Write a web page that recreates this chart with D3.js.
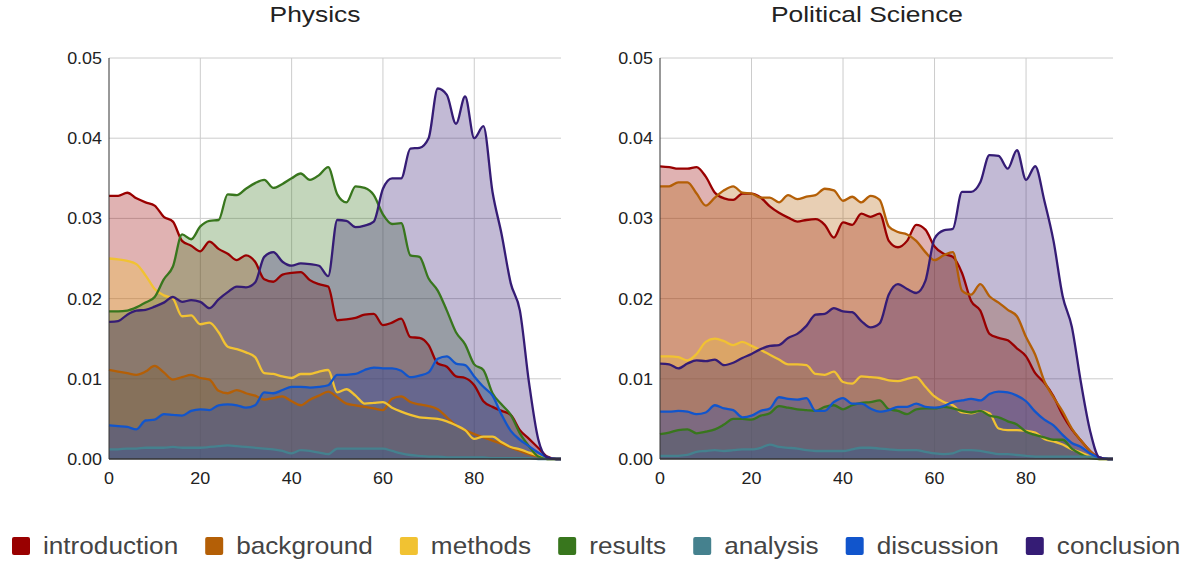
<!DOCTYPE html>
<html>
<head>
<meta charset="utf-8">
<script src="https://cdn.jsdelivr.net/npm/d3@7"></script>
<style>
  html, body { margin: 0; padding: 0; background: #fff; }
  svg { display: block; font-family: Arial, "Liberation Sans", sans-serif; }
</style>
</head>
<body>
<svg id="chart" width="1192" height="563"></svg>
<script>
// ---------------- DATA ----------------
const seriesNames = ["introduction", "background", "methods", "results", "analysis", "discussion", "conclusion"];
const seriesColors = ["#990000", "#b45f06", "#f1c232", "#38761d", "#45818e", "#1155cc", "#351c75"];
const chartTitles = ["Physics", "Political Science"];
const xTickValues = [0, 20, 40, 60, 80];
const yTickValues = [0, 0.01, 0.02, 0.03, 0.04, 0.05];
const yTickLabels = ["0.00", "0.01", "0.02", "0.03", "0.04", "0.05"];
// x positions (percent of paper): 0,2,...,98,99
const xPositions = d3.range(0, 100, 2).concat([99]);

// Physics
const physIntroduction = [0.0328,0.0328,0.0332,0.0325,0.0320,0.0316,0.0302,0.0296,0.0272,0.0266,
 0.0259,0.0271,0.0262,0.0256,0.0248,0.0254,0.0246,0.0224,0.0221,0.0230,
 0.0232,0.0233,0.0223,0.0218,0.0215,0.0173,0.0174,0.0176,0.0180,0.0181,
 0.0167,0.0170,0.0175,0.0152,0.0151,0.0142,0.0119,0.0115,0.0103,0.0101,
 0.0092,0.0072,0.0065,0.0060,0.0055,0.0036,0.0025,0.0014,0.0003,0,0];
const physBackground = [0.0111,0.0109,0.0107,0.0105,0.0109,0.0116,0.0108,0.0099,0.0102,0.0105,
 0.0101,0.0099,0.0085,0.0082,0.0086,0.0082,0.0079,0.0074,0.0076,0.0078,
 0.0072,0.0067,0.0074,0.0079,0.0084,0.0077,0.0069,0.0067,0.0065,0.0063,
 0.0061,0.0075,0.0078,0.0071,0.0068,0.0066,0.0062,0.0052,0.0042,0.0036,
 0.0031,0.0027,0.0023,0.0019,0.0014,0.0010,0.0006,0.0003,0.0001,0,0];
const physMethods = [0.0250,0.0249,0.0247,0.0243,0.0229,0.0212,0.0204,0.0200,0.0178,0.0179,
 0.0168,0.0170,0.0158,0.0140,0.0137,0.0133,0.0127,0.0107,0.0106,0.0103,
 0.0101,0.0106,0.0106,0.0109,0.0111,0.0083,0.0087,0.0079,0.0069,0.0070,
 0.0071,0.0064,0.0059,0.0055,0.0052,0.0051,0.0050,0.0047,0.0042,0.0036,
 0.0025,0.0028,0.0028,0.0021,0.0015,0.0012,0.0008,0.0004,0,0,0];
const physResults = [0.0184,0.0184,0.0185,0.0189,0.0195,0.0202,0.0224,0.0240,0.0280,0.0274,
 0.0290,0.0297,0.0298,0.0330,0.0329,0.0337,0.0344,0.0348,0.0338,0.0343,
 0.0350,0.0356,0.0348,0.0354,0.0364,0.0330,0.0320,0.0340,0.0338,0.0329,
 0.0305,0.0293,0.0294,0.0254,0.0252,0.0225,0.0210,0.0185,0.0158,0.0143,
 0.0118,0.0111,0.0082,0.0068,0.0055,0.0032,0.0016,0.0003,0,0,0];
const physAnalysis = [0.0012,0.0012,0.0013,0.0013,0.0014,0.0014,0.0014,0.0015,0.0014,0.0014,
 0.0014,0.0015,0.0016,0.0017,0.0016,0.0015,0.0014,0.0013,0.0012,0.0010,
 0.0007,0.0011,0.0010,0.0008,0.0006,0.0013,0.0013,0.0013,0.0013,0.0013,
 0.0013,0.0010,0.0007,0.0005,0.0004,0.0003,0.0003,0.0002,0.0002,0.0002,
 0.0002,0.0002,0.0001,0.0001,0.0001,0.0001,0.0001,0,0,0,0];
const physDiscussion = [0.0042,0.0041,0.0040,0.0037,0.0048,0.0049,0.0056,0.0055,0.0054,0.0060,
 0.0062,0.0061,0.0067,0.0068,0.0067,0.0064,0.0067,0.0083,0.0082,0.0086,
 0.0090,0.0090,0.0089,0.0090,0.0092,0.0105,0.0105,0.0106,0.0111,0.0114,
 0.0113,0.0113,0.0110,0.0102,0.0104,0.0108,0.0125,0.0128,0.0119,0.0117,
 0.0103,0.0090,0.0079,0.0055,0.0035,0.0024,0.0016,0.0008,0.0002,0,0];
const physConclusion = [0.0171,0.0172,0.0180,0.0185,0.0186,0.0190,0.0195,0.0202,0.0196,0.0198,
 0.0196,0.0188,0.0199,0.0208,0.0215,0.0214,0.0220,0.0252,0.0258,0.0246,
 0.0241,0.0244,0.0243,0.0241,0.0228,0.0298,0.0297,0.0289,0.0291,0.0296,
 0.0337,0.0350,0.0350,0.0387,0.0388,0.0400,0.0462,0.0454,0.0418,0.0452,
 0.0400,0.0415,0.0333,0.0280,0.0219,0.0185,0.0095,0.0025,0.0002,0,0];

// Political Science
const polIntroduction = [0.0365,0.0364,0.0362,0.0362,0.0364,0.0352,0.0332,0.0325,0.0323,0.0331,
 0.0331,0.0326,0.0315,0.0307,0.0301,0.0296,0.0298,0.0299,0.0292,0.0276,
 0.0295,0.0292,0.0306,0.0302,0.0306,0.0272,0.0264,0.0272,0.0292,0.0286,
 0.0265,0.0256,0.0252,0.0232,0.0197,0.0185,0.0156,0.0151,0.0148,0.0138,
 0.0128,0.0107,0.0095,0.0078,0.0055,0.0037,0.0023,0.0010,0.0002,0,0];
const polBackground = [0.0340,0.0340,0.0345,0.0345,0.0331,0.0316,0.0326,0.0335,0.0340,0.0332,
 0.0331,0.0326,0.0326,0.0320,0.0329,0.0324,0.0327,0.0329,0.0337,0.0335,
 0.0322,0.0327,0.0320,0.0328,0.0323,0.0290,0.0283,0.0280,0.0272,0.0258,
 0.0248,0.0254,0.0258,0.0210,0.0205,0.0218,0.0203,0.0195,0.0186,0.0178,
 0.0152,0.0130,0.0097,0.0077,0.0059,0.0038,0.0023,0.0010,0.0001,0,0];
const polMethods = [0.0128,0.0128,0.0127,0.0123,0.0131,0.0146,0.0150,0.0147,0.0142,0.0146,
 0.0141,0.0136,0.0130,0.0124,0.0118,0.0118,0.0117,0.0106,0.0105,0.0109,
 0.0096,0.0094,0.0103,0.0102,0.0101,0.0098,0.0097,0.0100,0.0102,0.0090,
 0.0078,0.0071,0.0067,0.0058,0.0057,0.0060,0.0057,0.0038,0.0036,0.0036,
 0.0035,0.0033,0.0025,0.0022,0.0018,0.0012,0.0008,0.0003,0,0,0];
const polResults = [0.0031,0.0033,0.0036,0.0037,0.0032,0.0034,0.0037,0.0043,0.0050,0.0050,
 0.0049,0.0054,0.0057,0.0066,0.0064,0.0062,0.0061,0.0060,0.0065,0.0067,
 0.0062,0.0067,0.0070,0.0071,0.0073,0.0062,0.0060,0.0056,0.0062,0.0063,
 0.0063,0.0065,0.0063,0.0060,0.0058,0.0060,0.0054,0.0052,0.0047,0.0043,
 0.0034,0.0030,0.0027,0.0024,0.0024,0.0013,0.0006,0.0001,0,0,0];
const polAnalysis = [0.0004,0.0004,0.0004,0.0005,0.0009,0.0010,0.0011,0.0010,0.0011,0.0012,
 0.0012,0.0014,0.0018,0.0015,0.0014,0.0013,0.0011,0.0010,0.0010,0.0010,
 0.0010,0.0012,0.0014,0.0014,0.0013,0.0012,0.0011,0.0011,0.0011,0.0009,
 0.0007,0.0006,0.0007,0.0011,0.0011,0.0010,0.0008,0.0006,0.0006,0.0005,
 0.0004,0.0003,0.0003,0.0003,0.0003,0.0003,0.0003,0.0003,0.0001,0,0];
const polDiscussion = [0.0059,0.0059,0.0060,0.0059,0.0056,0.0058,0.0067,0.0063,0.0061,0.0052,
 0.0054,0.0060,0.0063,0.0077,0.0075,0.0074,0.0076,0.0060,0.0060,0.0071,
 0.0076,0.0069,0.0069,0.0063,0.0059,0.0061,0.0065,0.0065,0.0069,0.0065,
 0.0064,0.0066,0.0071,0.0073,0.0075,0.0073,0.0081,0.0084,0.0083,0.0079,
 0.0072,0.0059,0.0049,0.0042,0.0030,0.0020,0.0015,0.0007,0.0002,0,0];
const polConclusion = [0.0119,0.0118,0.0113,0.0119,0.0123,0.0122,0.0124,0.0117,0.0120,0.0126,
 0.0131,0.0137,0.0141,0.0142,0.0151,0.0156,0.0166,0.0180,0.0181,0.0188,
 0.0184,0.0183,0.0172,0.0164,0.0169,0.0205,0.0218,0.0212,0.0207,0.0222,
 0.0275,0.0285,0.0287,0.0333,0.0333,0.0345,0.0379,0.0378,0.0362,0.0385,
 0.0348,0.0365,0.0322,0.0272,0.0203,0.0165,0.0095,0.0035,0.0002,0,0];

const physicsSeries = [physIntroduction, physBackground, physMethods, physResults, physAnalysis, physDiscussion, physConclusion];
const politicalSeries = [polIntroduction, polBackground, polMethods, polResults, polAnalysis, polDiscussion, polConclusion];

// ---------------- LAYOUT ----------------
const svg = d3.select("#chart");
const TEXT_COLOR = "#222";
const STRETCH = 1.12; // horizontal glyph stretch seen in the reference

function stretchedText(g, x, y, str, size, anchor, sx) {
  return g.append("text")
    .attr("transform", `translate(${x},${y}) scale(${sx},1)`)
    .attr("text-anchor", anchor)
    .attr("font-size", size)
    .attr("fill", TEXT_COLOR)
    .text(str);
}

const panels = [
  { title: chartTitles[0], series: physicsSeries, left: 109, right: 561, titleX: 315 },
  { title: chartTitles[1], series: politicalSeries, left: 660, right: 1113, titleX: 867 }
];
const plotTop = 58, plotBottom = 459;

panels.forEach(p => {
  const g = svg.append("g");
  const x = d3.scaleLinear().domain([0, 99]).range([p.left, p.right]);
  const y = d3.scaleLinear().domain([0, 0.05]).range([plotBottom, plotTop]);

  // gridlines
  g.append("g").selectAll("line.h").data(yTickValues.filter(v => v > 0)).join("line")
    .attr("x1", p.left).attr("x2", p.right)
    .attr("y1", d => y(d)).attr("y2", d => y(d))
    .attr("stroke", "#cccccc").attr("stroke-width", 1);
  g.append("g").selectAll("line.v").data(xTickValues.filter(v => v > 0)).join("line")
    .attr("x1", d => x(d)).attr("x2", d => x(d))
    .attr("y1", plotTop).attr("y2", plotBottom)
    .attr("stroke", "#cccccc").attr("stroke-width", 1);

  const area = d3.area().x((d, i) => x(xPositions[i])).y0(y(0)).y1(d => y(d)).curve(d3.curveMonotoneX);
  const line = d3.line().x((d, i) => x(xPositions[i])).y(d => y(d)).curve(d3.curveMonotoneX);

  // areas
  g.append("g").selectAll("path").data(p.series).join("path")
    .attr("d", d => area(d))
    .attr("fill", (d, i) => seriesColors[i])
    .attr("fill-opacity", 0.3)
    .attr("stroke", "none");
  // lines
  g.append("g").selectAll("path").data(p.series).join("path")
    .attr("d", d => line(d))
    .attr("fill", "none")
    .attr("stroke", (d, i) => seriesColors[i])
    .attr("stroke-width", 2.3)
    .attr("stroke-linejoin", "round");

  // axis lines
  g.append("line").attr("x1", p.left).attr("x2", p.left).attr("y1", plotTop).attr("y2", plotBottom)
    .attr("stroke", "#333").attr("stroke-width", 1);
  g.append("line").attr("x1", p.left).attr("x2", p.right).attr("y1", plotBottom).attr("y2", plotBottom)
    .attr("stroke", "#333").attr("stroke-width", 1.5);

  // y tick labels
  yTickValues.forEach((v, i) => {
    stretchedText(g, p.left - 7, y(v) + 6, yTickLabels[i], 16, "end", STRETCH);
  });
  // x tick labels
  xTickValues.forEach(v => {
    stretchedText(g, x(v), plotBottom + 25, String(v), 16, "middle", STRETCH);
  });
  // title
  stretchedText(g, p.titleX, 22, p.title, 22, "middle", 1.2);
});

// ---------------- LEGEND ----------------
const legend = svg.append("g");
let lx = 12;
const LEG_SX = 1.09;
seriesNames.forEach((name, i) => {
  legend.append("rect").attr("x", lx).attr("y", 537).attr("width", 18).attr("height", 18)
    .attr("rx", 2).attr("fill", seriesColors[i]);
  const t = legend.append("text")
    .attr("transform", `translate(${lx + 31},554) scale(${LEG_SX},1)`)
    .attr("font-size", 24).attr("fill", "#444").text(name);
  const w = t.node().getComputedTextLength() * LEG_SX;
  lx += 31 + w + 27;
});
</script>
</body>
</html>
